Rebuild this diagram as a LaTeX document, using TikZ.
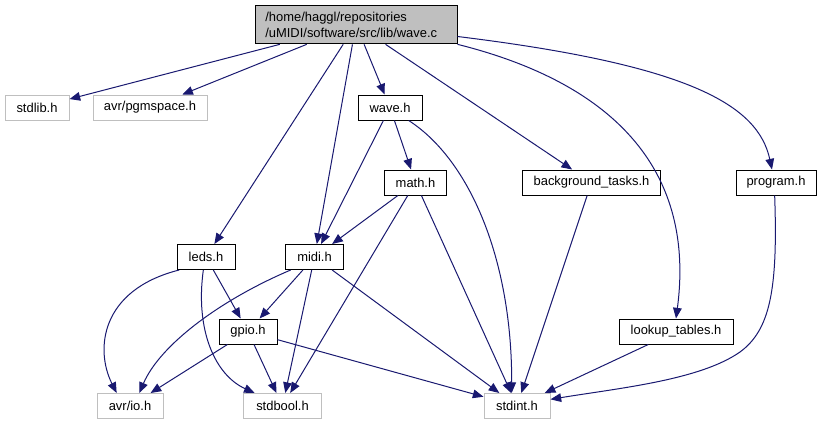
\documentclass[tikz,border=0pt]{standalone}
\usepackage{fontspec}
\setmainfont{Liberation Sans}
\usetikzlibrary{arrows.meta}
\definecolor{EdgeBlue}{RGB}{25,25,112}
\definecolor{SysGray}{RGB}{191,191,191}
\definecolor{MainFill}{RGB}{191,191,191}

\begin{document}
\begin{tikzpicture}[
    x=0.75pt,
    y=-0.75pt,
    every node/.style={align=center, font=\fontsize{9.7}{12}\selectfont},
    header/.style={
      draw=black,
      fill=white,
      minimum height=18.75pt,
      inner sep=0pt,
      line width=0.75pt
    },
    syshdr/.style={
      header,
      draw=SysGray
    },
    mainfile/.style={
      draw=black,
      fill=MainFill,
      minimum width=151.5pt,
      minimum height=29pt,
      text width=136pt,
      inner xsep=7.5pt,
      align=left,
      line width=0.75pt
    },
    dep/.style={-{Triangle[length=8pt,width=6.5pt]}, line width=0.75pt, color=EdgeBlue}
  ]
    \useasboundingbox (0,0) rectangle (821,425);

    % Source file at the top
    \node[mainfile] (wavec) at (356,24.5) {/home/haggl/repositories\\/uMIDI/software/src/lib/wave.c};

    % First row of headers
    \node[syshdr, minimum width=48pt] (stdlib) at (37,107.5) {stdlib.h};
    \node[syshdr, minimum width=85.5pt] (pgmspace) at (150,107.5) {avr/pgmspace.h};
    \node[header, minimum width=48pt] (waveh) at (390,107.5) {wave.h};

    % Second row
    \node[header, minimum width=47pt] (mathh) at (415.5,182.5) {math.h};
    \node[header, minimum width=104pt] (bgtasks) at (591.5,182.5) {background\_tasks.h};
    \node[header, minimum width=60pt] (program) at (776,182.5) {program.h};

    % Third and fourth rows
    \node[header, minimum width=43.5pt] (leds) at (206,257) {leds.h};
    \node[header, minimum width=43pt] (midi) at (314.5,257) {midi.h};
    \node[header, minimum width=43.5pt] (gpio) at (248,331.5) {gpio.h};
    \node[header, minimum width=85.5pt] (lookup) at (676,331.5) {lookup\_tables.h};

    % System headers at the bottom
    \node[syshdr, minimum width=49.5pt] (avrio) at (130,406) {avr/io.h};
    \node[syshdr, minimum width=59pt] (stdbool) at (282.5,406) {stdbool.h};
    \node[syshdr, minimum width=49.5pt] (stdint) at (517,406) {stdint.h};

    % Includes of wave.c
    \draw[dep] (wavec) -- (stdlib);
    \draw[dep] (wavec) -- (pgmspace);
    \draw[dep] (wavec) -- (leds);
    \draw[dep] (wavec) -- (midi);
    \draw[dep] (wavec) -- (waveh);
    \draw[dep] (wavec) -- (bgtasks);
    \draw[dep] (wavec.south east) .. controls (620,85) and (695,175) .. (lookup.north);
    \draw[dep] ([yshift=-9pt]wavec.east) .. controls (690,65) and (758,105) .. ([xshift=-3pt]program.north);

    % Includes of wave.h and math.h
    \draw[dep] (waveh) -- (mathh);
    \draw[dep] (waveh) -- (midi);
    \draw[dep] ([xshift=14pt]waveh.south) .. controls (470,160) and (512,260) .. ([xshift=-4pt]stdint.north);
    \draw[dep] (mathh) -- (midi);
    \draw[dep] (mathh) -- (stdbool);
    \draw[dep] (mathh) -- (stdint);

    % Includes of leds.h and midi.h
    \draw[dep] (leds) -- (gpio);
    \draw[dep] ([xshift=2pt]leds.south west) .. controls (100,290) and (95,350) .. ([xshift=-10pt]avrio.north);
    \draw[dep] ([xshift=-2pt]leds.south) .. controls (195,330) and (215,375) .. ([xshift=9pt]stdbool.north west);
    \draw[dep] (midi) -- (gpio);
    \draw[dep] (midi) -- (stdbool);
    \draw[dep] (midi) -- (stdint);
    \draw[dep] ([xshift=4pt]midi.south west) .. controls (220,300) and (160,345) .. ([xshift=7pt]avrio.north);

    % Includes of gpio.h and the rest
    \draw[dep] (gpio) -- (avrio);
    \draw[dep] (gpio) -- (stdbool);
    \draw[dep] (gpio) -- (stdint);
    \draw[dep] (bgtasks) -- (stdint);
    \draw[dep] (lookup) -- (stdint);
    \draw[dep] ([xshift=-1pt]program.south) .. controls (778,290) and (770,330) .. (740,352) .. controls (700,380) and (620,388) .. ([yshift=5pt]stdint.east);
  \end{tikzpicture}
\end{document}
